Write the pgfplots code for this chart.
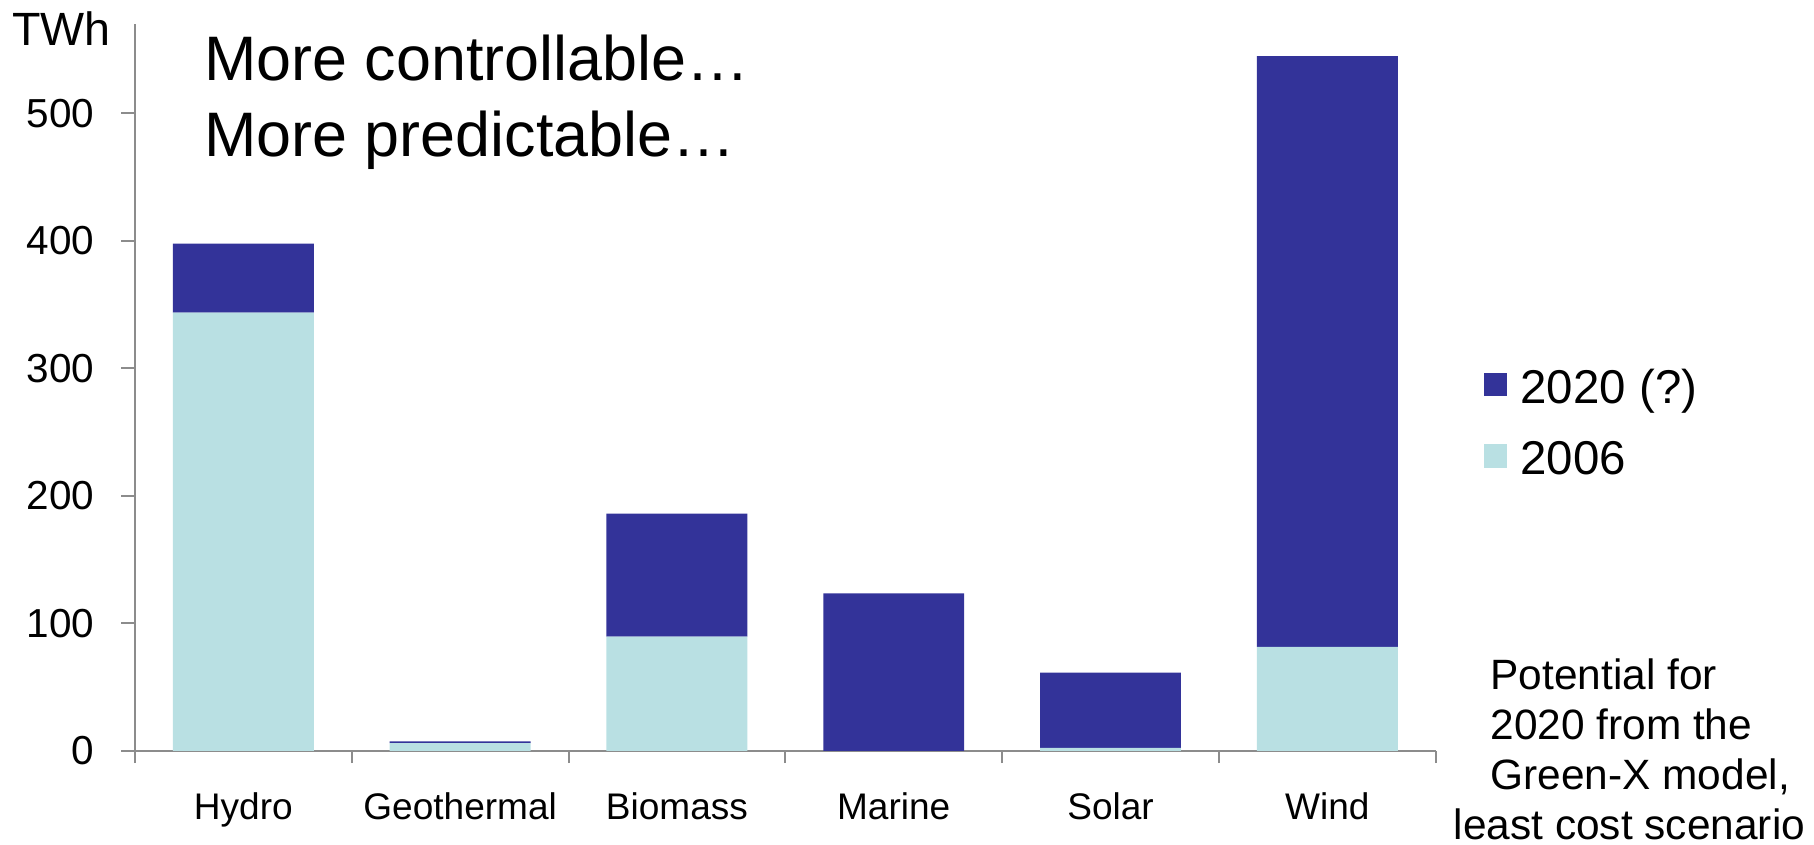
\documentclass[border=0pt]{standalone}
\usepackage{pgfplots}
\pgfplotsset{compat=1.18}
\usepackage{fontspec}
\setmainfont{Liberation Sans}
\definecolor{c2020}{RGB}{51,51,153}
\definecolor{c2006}{RGB}{185,224,227}
\definecolor{axgray}{RGB}{140,140,140}
\begin{document}
\begin{tikzpicture}
\clip (-35.0pt,-24.3pt) rectangle (435.4pt,194.7pt);
\begin{axis}[
  at={(0,0)}, anchor=south west,
  width=337.3pt, height=188.5pt, scale only axis,
  clip=false,
  ybar stacked, bar width=0.65,
  xmin=-0.5, xmax=5.5, ymin=0, ymax=570,
  axis lines=left,
  axis line style={-, draw=axgray, line width=0.5pt},
  ytick={0,100,...,500},
  xtick={0,...,5},
  xticklabels={Hydro,Geothermal,Biomass,Marine,Solar,Wind},
  minor xtick={-0.5,0.5,...,5.5},
  tick align=outside,
  major tick length=3.5pt, minor tick length=3.2pt,
  tick style={draw=axgray, line width=0.5pt},
  major x tick style={draw=none},
  /pgf/number format/assume math mode=true,
  yticklabel style={font=\fontsize{10.5}{12}\selectfont, anchor=east, inner sep=0pt, xshift=-6.9pt},
  xticklabel style={font=\fontsize{9.6}{11}\selectfont, anchor=base, inner sep=0pt, yshift=-14.2pt},
  legend style={at={(1.0365,0.5268)}, anchor=north west, draw=none, fill=none,
    inner sep=0pt, font=\fontsize{12.3}{14}\selectfont, row sep=8.4pt, column sep=3.5pt,
    nodes={inner sep=0pt}},
  legend cell align=left, reverse legend,
  legend image code/.code={\fill[#1] (0pt,-1.8pt) rectangle (6pt,4.2pt);},
]
\addplot[fill=c2006, draw=none] coordinates {(0,343.6) (1,6) (2,89.6) (3,0) (4,2.4) (5,81.6)};
\addlegendentry{2006}
\addplot[fill=c2020, draw=none] coordinates {(0,54.1) (1,1.5) (2,96.4) (3,123.4) (4,58.9) (5,463.2)};
\addlegendentry{2020 (?)}
\end{axis}
\node[anchor=base west, inner sep=0pt, font=\fontsize{12.1}{14}\selectfont] at (-32.0pt,182.9pt) {TWh};
\node[anchor=base west, inner sep=0pt, font=\fontsize{16.3}{19}\selectfont] at (17.8pt,173.9pt) {More controllable…};
\node[anchor=base west, inner sep=0pt, font=\fontsize{16.3}{19}\selectfont] at (17.8pt,154.1pt) {More predictable…};
\begin{scope}[every node/.style={anchor=base west, inner sep=0pt, font=\fontsize{11}{13}\selectfont}]
\node at (351.3pt,16.0pt) {Potential for};
\node at (351.3pt,3.0pt) {2020 from the};
\node at (351.3pt,-10.05pt) {Green-X model,};
\node at (341.8pt,-23.1pt) {least cost scenario};
\end{scope}
\end{tikzpicture}
\end{document}
